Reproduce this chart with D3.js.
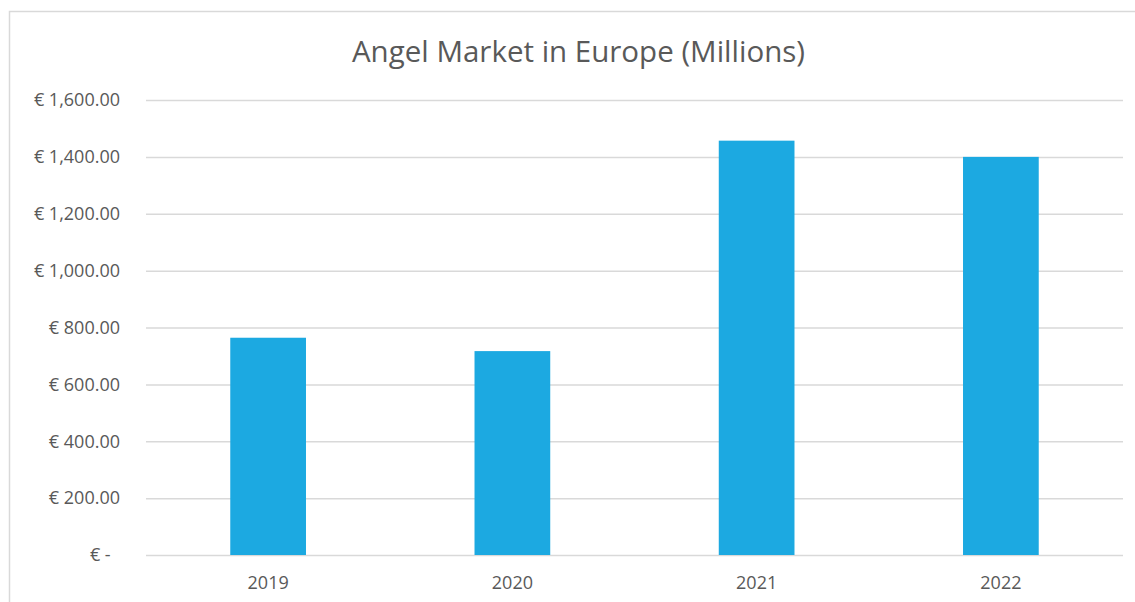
<!DOCTYPE html>
<html>
<head>
<meta charset="utf-8">
<script src="https://cdn.jsdelivr.net/npm/d3@7"></script>
<style>
  html, body { margin: 0; padding: 0; background: #ffffff; }
  svg { display: block; }
</style>
</head>
<body>
<svg id="chart" width="1135" height="602"></svg>
<script>
// Angel investment volume in Europe, EUR millions
const years = ["2019", "2020", "2021", "2022"];
const values = [764, 717, 1457, 1400];
const yTicks = [0, 200, 400, 600, 800, 1000, 1200, 1400, 1600];
const yTickLabels = ["€ -\u00a0\u00a0", "€ 200.00", "€ 400.00", "€ 600.00", "€ 800.00",
                     "€ 1,000.00", "€ 1,200.00", "€ 1,400.00", "€ 1,600.00"];
const chartTitle = "Angel Market in Europe (Millions)";

const svg = d3.select("#chart");
const W = 1135, H = 602;
const plot = { left: 146, right: 1123, top: 100, bottom: 555 };
const textColor = "#595959";
const font = "'Open Sans', 'Liberation Sans', sans-serif";

// chart frame
svg.append("rect")
  .attr("x", 9.5).attr("y", 11.5)
  .attr("width", W + 20).attr("height", H + 20)
  .attr("fill", "none").attr("stroke", "#d9d9d9").attr("stroke-width", 1.5);

const x = d3.scaleBand()
  .domain(years)
  .range([plot.left, plot.right])
  .paddingInner(0.69)
  .paddingOuter(0.345);

const y = d3.scaleLinear()
  .domain([0, 1600])
  .range([plot.bottom, plot.top]);

// horizontal gridlines + value labels
const yAxis = d3.axisLeft(y)
  .tickValues(yTicks)
  .tickSize(-(plot.right - plot.left))
  .tickPadding(26)
  .tickFormat((d, i) => yTickLabels[i]);

const gy = svg.append("g")
  .attr("transform", `translate(${plot.left},0)`)
  .call(yAxis);
gy.select(".domain").remove();
gy.selectAll(".tick line").attr("stroke", "#d9d9d9").attr("stroke-width", 1.5);
gy.selectAll(".tick text")
  .attr("fill", textColor)
  .style("font-family", font)
  .style("font-size", "18px");

// bars
svg.append("g")
  .selectAll("rect")
  .data(values)
  .join("rect")
  .attr("x", (d, i) => x(years[i]))
  .attr("width", x.bandwidth())
  .attr("y", d => y(d))
  .attr("height", d => y(0) - y(d))
  .attr("fill", "#1ca9e1");

// category axis
const xAxis = d3.axisBottom(x).tickSize(0).tickPadding(21);
const gx = svg.append("g")
  .attr("transform", `translate(0,${plot.bottom})`)
  .call(xAxis);
gx.select(".domain").remove();
gx.selectAll(".tick text")
  .attr("fill", textColor)
  .style("font-family", font)
  .style("font-size", "18px");

// title
svg.append("text")
  .attr("x", 578.5)
  .attr("y", 62)
  .attr("text-anchor", "middle")
  .attr("fill", textColor)
  .style("font-family", font)
  .style("font-size", "29.5px")
  .text(chartTitle);
</script>
</body>
</html>
